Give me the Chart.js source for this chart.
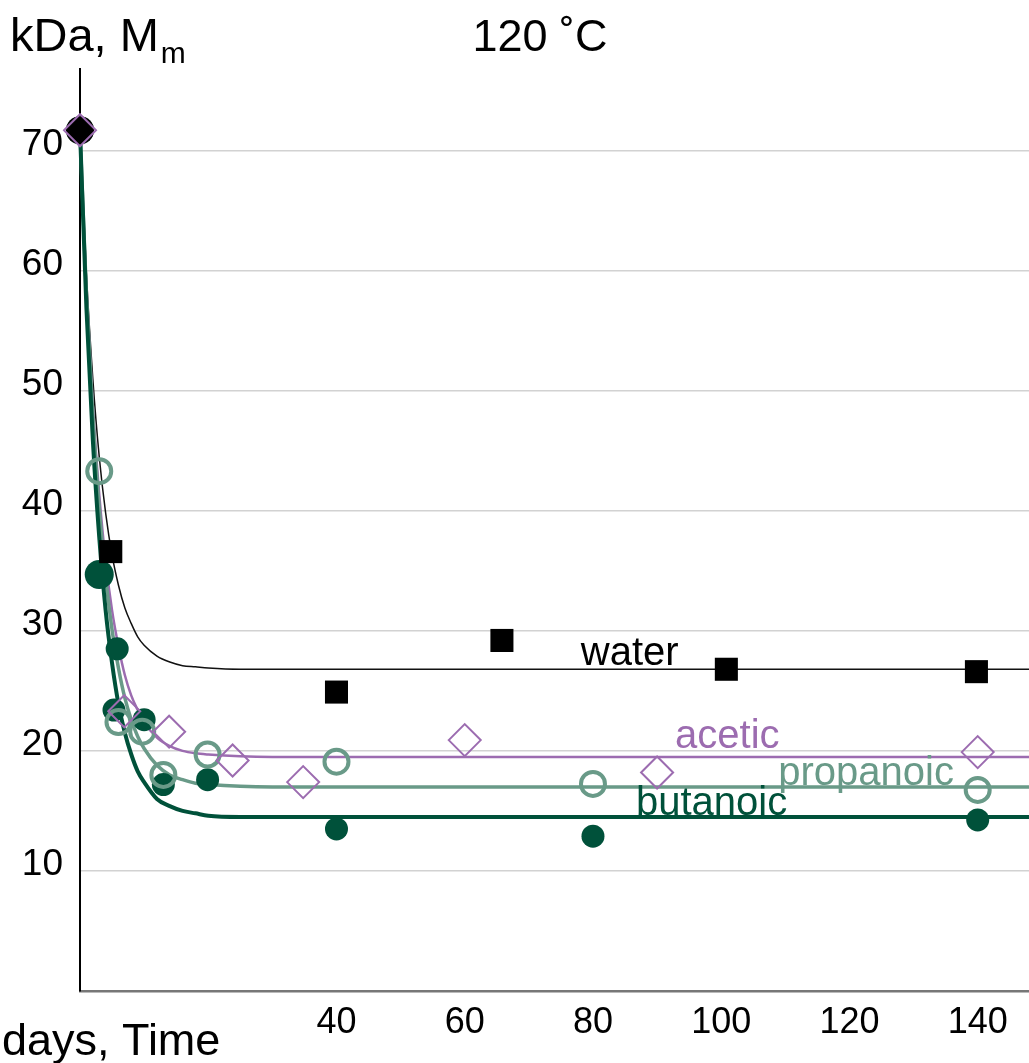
<!DOCTYPE html>
<html><head><meta charset="utf-8">
<script src="https://cdn.jsdelivr.net/npm/chart.js@4.4.1/dist/chart.umd.min.js"></script>
<style>html,body{margin:0;padding:0;background:#fff;overflow:hidden;} canvas{display:block;}</style>
</head><body>
<canvas id="c" width="1029" height="1063"></canvas>
<script>
// ---- data ----
const seriesNames = ['water', 'acetic', 'propanoic', 'butanoic'];

const waterDays = [0, 4.8, 40, 65.8, 100.8, 139.8];
const waterMm   = [71.7, 36.6, 24.9, 29.2, 26.8, 26.6];

const aceticDays = [0, 6.9, 13.9, 23.8, 34.8, 60, 90, 140];
const aceticMm   = [71.7, 23.3, 21.6, 19.2, 17.4, 20.9, 18.2, 19.9];

const propanoicDays = [0, 3.0, 6.0, 9.7, 13.0, 19.9, 40, 80, 140];
const propanoicMm   = [71.7, 43.3, 22.4, 21.6, 18.0, 19.7, 19.1, 17.25, 16.75];

const butanoicDays = [0, 3.0, 5.3, 5.8, 10.0, 13.0, 19.9, 40, 80, 140];
const butanoicMm   = [71.7, 34.7, 23.4, 28.5, 22.6, 17.2, 17.6, 13.5, 12.9, 14.25];

// fitted curves
const fitDays      = [0, 1, 2, 3, 4, 5, 6, 7, 8, 9, 10, 12, 14, 16, 18, 20, 25, 30, 148];
const waterFit     = [71.7, 59.7, 51.0, 44.5, 39.8, 36.3, 33.8, 31.9, 30.6, 29.5, 28.8, 27.9, 27.4, 27.1, 27.0, 26.9, 26.8, 26.8, 26.8];
const aceticFit    = [71.7, 58.5, 48.7, 41.4, 35.8, 31.7, 28.7, 26.3, 24.6, 23.4, 22.4, 21.1, 20.4, 20.0, 19.8, 19.7, 19.55, 19.5, 19.5];
const propanoicFit = [71.7, 58.1, 48.0, 40.2, 34.5, 30.1, 26.9, 24.4, 22.6, 21.2, 20.2, 18.8, 18.0, 17.6, 17.3, 17.2, 17.05, 17.0, 17.0];
const butanoicFit  = [71.7, 56.9, 45.9, 37.8, 31.7, 27.3, 23.9, 21.5, 19.7, 18.3, 17.4, 16.0, 15.4, 15.0, 14.8, 14.6, 14.5, 14.5, 14.5];

const xTickLabels = [40, 60, 80, 100, 120, 140];
const yTickLabels = [10, 20, 30, 40, 50, 60, 70];

const titleText = '120 ˚C';
const yTitleMain = 'kDa, M';
const yTitleSub = 'm';
const xTitleText = 'days, Time';

// ---- styling ----
const COL = { water: '#000000', acetic: '#9c6cb0', propanoic: '#699a88', butanoic: '#00513a' };
const FONT = 'Liberation Sans, Arial, Helvetica, sans-serif';

const pts = (xs, ys) => xs.map((x, i) => ({ x: x, y: ys[i] }));

// series label anchors (days, kDa at baseline)
const seriesLabelAt = {
  water: [78.1, 27.17],
  acetic: [92.8, 20.2],
  propanoic: [108.9, 17.17],
  butanoic: [86.7, 14.67]
};

const textPlugin = {
  id: 'texts',
  afterDraw(chart) {
    const ctx = chart.ctx;
    const xs = chart.scales.x, ys = chart.scales.y;
    ctx.save();
    ctx.textBaseline = 'alphabetic';
    ctx.textAlign = 'left';
    ctx.fillStyle = '#000';
    ctx.font = '47px ' + FONT;
    ctx.fillText(yTitleMain, 10, 51);
    const w = ctx.measureText(yTitleMain).width;
    ctx.font = '30px ' + FONT;
    ctx.fillText(yTitleSub, 10 + w + 2, 63);
    ctx.font = '45px ' + FONT;
    ctx.textAlign = 'center';
    ctx.fillText(titleText, 540, 51);
    ctx.textAlign = 'left';
    ctx.fillText(xTitleText, 2, 1055);
    ctx.font = '40px ' + FONT;
    seriesNames.forEach(n => {
      const a = seriesLabelAt[n];
      ctx.fillStyle = COL[n];
      ctx.fillText(n, xs.getPixelForValue(a[0]), ys.getPixelForValue(a[1]));
    });
    ctx.restore();
  }
};

const fitLine = (data, color, width) => ({
  data: pts(fitDays, data),
  showLine: true,
  borderColor: color,
  borderWidth: width,
  pointRadius: 0,
  fill: false,
  clip: false,
  cubicInterpolationMode: 'monotone'
});

new Chart(document.getElementById('c'), {
  type: 'scatter',
  data: {
    datasets: [
      { // acetic markers (top)
        data: pts(aceticDays, aceticMm), clip: false,
        pointStyle: 'rectRot', pointRadius: 16,
        borderColor: COL.acetic, borderWidth: 2, backgroundColor: 'rgba(0,0,0,0)'
      },
      { // water markers
        data: pts(waterDays, waterMm), clip: false,
        pointStyle: c => c.dataIndex === 0 ? 'circle' : 'rect',
        pointRadius: c => c.dataIndex === 0 ? 14 : 16.3,
        borderWidth: 0, backgroundColor: COL.water, borderColor: COL.water
      },
      { // propanoic markers
        data: pts(propanoicDays, propanoicMm), clip: false,
        pointStyle: 'circle', pointRadius: 12,
        borderColor: COL.propanoic, borderWidth: 4, backgroundColor: 'rgba(0,0,0,0)'
      },
      { // butanoic markers
        data: pts(butanoicDays, butanoicMm), clip: false,
        pointStyle: 'circle',
        pointRadius: c => c.dataIndex === 1 ? 14.5 : 11.5,
        borderWidth: 0, backgroundColor: COL.butanoic, borderColor: COL.butanoic
      },
      fitLine(butanoicFit, COL.butanoic, 4),
      fitLine(propanoicFit, COL.propanoic, 3.5),
      fitLine(aceticFit, COL.acetic, 2.5),
      fitLine(waterFit, '#111', 1.5)
    ]
  },
  options: {
    responsive: false,
    devicePixelRatio: 1,
    animation: false,
    events: [],
    layout: { autoPadding: false, padding: { top: 69, left: 0, right: 0, bottom: 0 } },
    plugins: { legend: { display: false }, tooltip: { enabled: false }, title: { display: false } },
    scales: {
      x: {
        type: 'linear', position: 'bottom', min: 0, max: 148,
        grid: { display: false, drawTicks: false },
        border: { display: true, color: '#777', width: 2.5 },
        ticks: {
          color: '#000', font: { family: FONT, size: 36 }, padding: 10,
          maxRotation: 0, autoSkip: false,
          callback: v => String(v)
        },
        afterBuildTicks: s => { s.ticks = xTickLabels.map(v => ({ value: v })); },
        afterFit: s => { s.height = 72; s.paddingLeft = 0; s.paddingRight = 0; }
      },
      y: {
        type: 'linear', position: 'left', min: 0, max: 76.8,
        grid: { color: '#d2d2d2', lineWidth: 1.5, drawTicks: false },
        border: { display: true, color: '#000', width: 2 },
        ticks: {
          color: '#000', font: { family: FONT, size: 37 }, padding: 17,
          labelOffset: -6, autoSkip: false,
          callback: v => String(v)
        },
        afterBuildTicks: s => { s.ticks = yTickLabels.map(v => ({ value: v })); },
        afterFit: s => { s.width = 80; s.paddingTop = 0; s.paddingBottom = 0; }
      }
    }
  },
  plugins: [textPlugin]
});
</script>
</body></html>
